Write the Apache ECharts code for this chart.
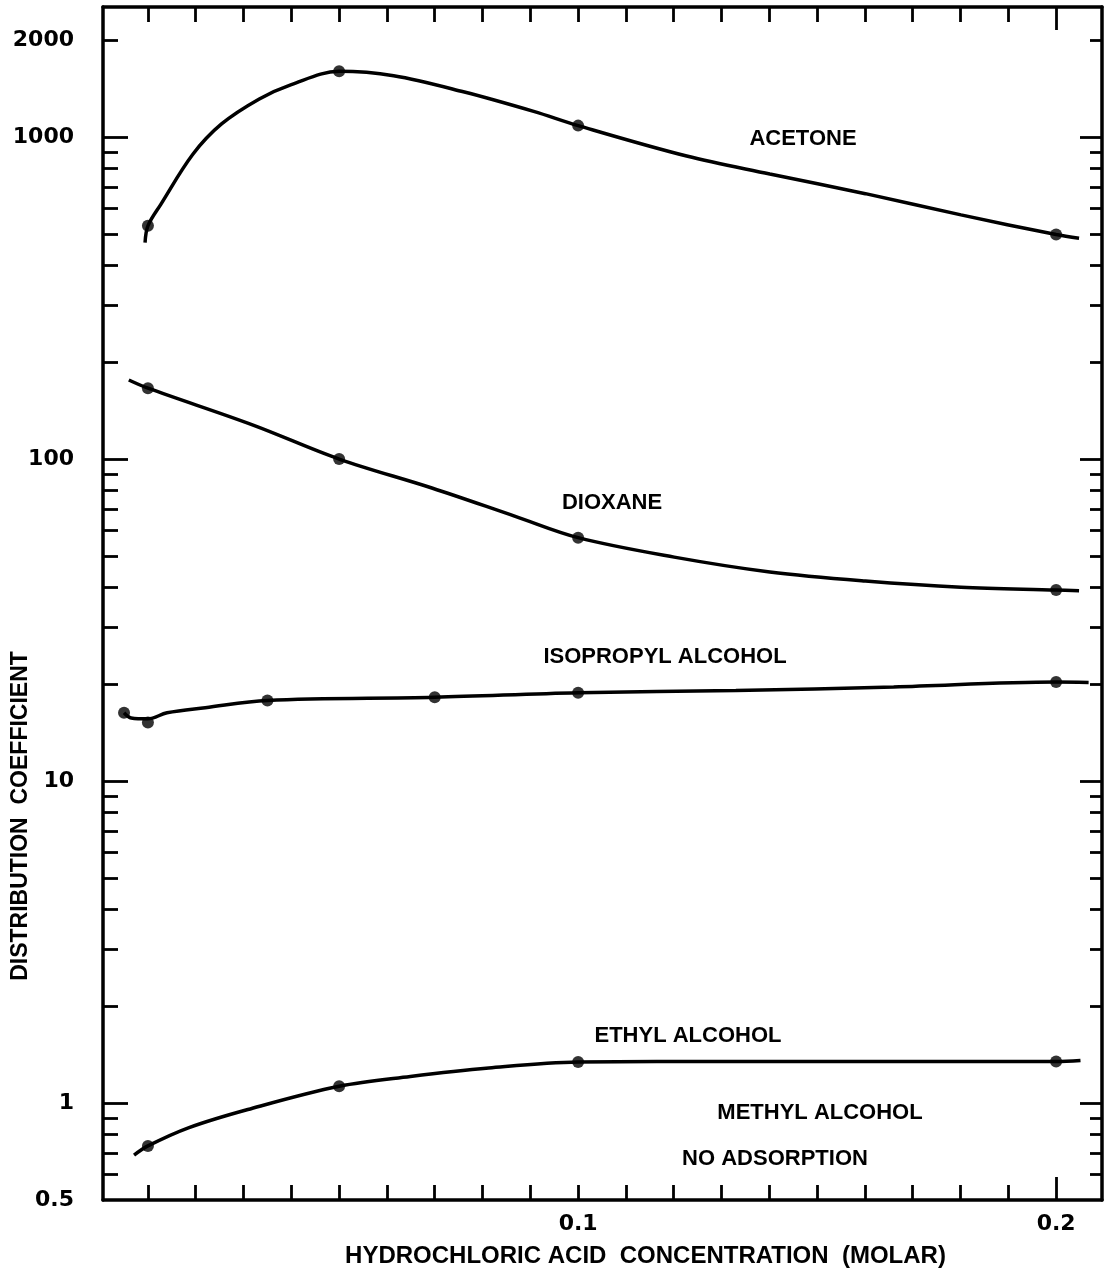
<!DOCTYPE html>
<html>
<head>
<meta charset="utf-8">
<script src="https://cdn.jsdelivr.net/npm/echarts@6/dist/echarts.min.js"></script>
<style>
  html, body { margin: 0; padding: 0; background: #ffffff; }
  #chart { width: 1107px; height: 1277px; }
</style>
</head>
<body>
<div id="chart"></div>
<script>
// Measured points: HCl concentration (M) vs. distribution coefficient
const acetoneX = [0.01, 0.05, 0.1, 0.2];
const acetoneY = [530, 1600, 1085, 498];
const dioxaneX = [0.01, 0.05, 0.1, 0.2];
const dioxaneY = [166, 100, 57, 39.2];
const isopropylX = [0.005, 0.01, 0.035, 0.07, 0.1, 0.2];
const isopropylY = [16.3, 15.2, 17.8, 18.2, 18.8, 20.3];
const ethylX = [0.01, 0.05, 0.1, 0.2];
const ethylY = [0.736, 1.128, 1.341, 1.345];

// Hand-faired curves through the measurements
const acetoneCurveX = [0.0094, 0.01, 0.0127, 0.0194, 0.0254, 0.0333, 0.04, 0.05, 0.0614, 0.076, 0.0907, 0.1, 0.1227, 0.1401, 0.1601, 0.1801, 0.2, 0.2048];
const acetoneCurveY = [470, 530, 618, 884, 1098, 1313, 1455, 1600, 1550, 1382, 1201, 1085, 873, 768, 667, 573, 498, 485];
const dioxaneCurveX = [0.006, 0.01, 0.032, 0.05, 0.0694, 0.0867, 0.1, 0.1201, 0.1401, 0.1601, 0.1801, 0.2, 0.2048];
const dioxaneCurveY = [176, 166, 127.5, 100, 81.3, 66.5, 57, 49.6, 44.6, 41.8, 40.0, 39.2, 39.0];
const isopropylCurveX = [0.005, 0.0065, 0.01, 0.014, 0.022, 0.035, 0.07, 0.1, 0.133, 0.166, 0.2, 0.2068];
const isopropylCurveY = [16.3, 15.7, 15.6, 16.3, 16.9, 17.8, 18.2, 18.8, 19.1, 19.6, 20.3, 20.25];
const ethylCurveX = [0.0071, 0.01, 0.0186, 0.0309, 0.05, 0.0649, 0.0813, 0.1, 0.133, 0.2, 0.2051];
const ethylCurveY = [0.689, 0.736, 0.839, 0.955, 1.128, 1.21, 1.285, 1.341, 1.347, 1.345, 1.356];

// Axis ticks and labels
const xMinorTicks = [0.01, 0.02, 0.03, 0.04, 0.05, 0.06, 0.07, 0.08, 0.09, 0.1,
                     0.11, 0.12, 0.13, 0.14, 0.15, 0.16, 0.17, 0.18, 0.19];
const xMajorTicks = [0.2];
const xTickLabels = [0.1, 0.2];
const yMinorTicks = [0.6, 0.7, 0.8, 0.9, 2, 3, 4, 5, 6, 7, 8, 9,
                     20, 30, 40, 50, 60, 70, 80, 90,
                     200, 300, 400, 500, 600, 700, 800, 900, 2000];
const yMajorTicks = [1, 10, 100, 1000];
const yTickLabels = [0.5, 1, 10, 100, 1000, 2000];

// Curve captions
const captions = ['ACETONE', 'DIOXANE', 'ISOPROPYL ALCOHOL', 'ETHYL ALCOHOL', 'METHYL ALCOHOL', 'NO ADSORPTION'];

const INK = '#000000';
const X_MIN = 0.0006, X_MAX = 0.2096;
const Y_MIN = 0.5, Y_MAX = 2534;
const numFont = '"DejaVu Sans", sans-serif';
const capFont = '"Liberation Sans", Arial, sans-serif';

function zip(xs, ys) { return xs.map((x, i) => [x, ys[i]]); }

function xAxisDef(position, ticks, len, withLine, withLabels) {
  return {
    type: 'value', position: position, min: X_MIN, max: X_MAX,
    splitLine: { show: false },
    axisLine: { show: withLine, onZero: false, lineStyle: { color: INK, width: 3.5 } },
    axisTick: { show: true, inside: true, length: len, customValues: ticks,
                lineStyle: { color: INK, width: 2.8 } },
    axisLabel: withLabels ? {
      show: true, customValues: xTickLabels, margin: 13,
      color: INK, fontFamily: numFont, fontWeight: 'bold', fontSize: 22,
      formatter: v => String(v)
    } : { show: false },
    name: withLabels ? 'HYDROCHLORIC ACID  CONCENTRATION  (MOLAR)' : '',
    nameLocation: 'middle', nameGap: 44,
    nameTextStyle: { color: INK, fontFamily: capFont, fontWeight: 'bold', fontSize: 24,
                     padding: [0, 0, 0, 86] }
  };
}

function yAxisDef(position, ticks, len, withLine, withLabels) {
  return {
    type: 'log', logBase: 10, position: position, min: Y_MIN, max: Y_MAX,
    splitLine: { show: false }, minorTick: { show: false },
    axisLine: { show: withLine, onZero: false, lineStyle: { color: INK, width: 3.5 } },
    axisTick: { show: true, inside: true, length: len, customValues: ticks,
                lineStyle: { color: INK, width: 2.8 } },
    axisLabel: withLabels ? {
      show: true, customValues: yTickLabels, margin: 29,
      color: INK, fontFamily: numFont, fontWeight: 'bold', fontSize: 22,
      formatter: v => String(v)
    } : { show: false }
  };
}

function curve(xs, ys) {
  return {
    type: 'line', xAxisIndex: 0, yAxisIndex: 0, data: zip(xs, ys),
    smooth: 0.35, showSymbol: false, symbol: 'none', silent: true,
    lineStyle: { color: INK, width: 3.5 }, z: 3
  };
}
function points(xs, ys) {
  return {
    type: 'scatter', xAxisIndex: 0, yAxisIndex: 0, data: zip(xs, ys),
    symbol: 'circle', symbolSize: 12, itemStyle: { color: INK }, z: 4
  };
}

// Caption anchors in pixels
const captionPos = [[803, 139], [612, 503], [665, 657], [688, 1036], [820, 1113], [775, 1159]];

const option = {
  backgroundColor: '#ffffff',
  animation: false,
  grid: { left: 103, right: 5, top: 7, bottom: 77, containLabel: false, outerBoundsMode: 'none' },
  xAxis: [
    xAxisDef('bottom', xMinorTicks, 15, true, true),
    xAxisDef('bottom', xMajorTicks, 23, false, false),
    xAxisDef('top', xMinorTicks, 15, true, false),
    xAxisDef('top', xMajorTicks, 23, false, false)
  ],
  yAxis: [
    yAxisDef('left', yMinorTicks, 15, true, true),
    yAxisDef('left', yMajorTicks, 25, false, false),
    yAxisDef('right', yMinorTicks, 12, true, false),
    yAxisDef('right', yMajorTicks, 22, false, false)
  ],
  series: [
    curve(acetoneCurveX, acetoneCurveY),
    curve(dioxaneCurveX, dioxaneCurveY),
    curve(isopropylCurveX, isopropylCurveY),
    curve(ethylCurveX, ethylCurveY),
    points(acetoneX, acetoneY),
    points(dioxaneX, dioxaneY),
    points(isopropylX, isopropylY),
    points(ethylX, ethylY)
  ],
  graphic: captions.map((t, i) => ({
    type: 'text', x: captionPos[i][0], y: captionPos[i][1], silent: true,
    style: { text: t, fill: INK, align: 'center', verticalAlign: 'middle',
             font: 'bold 22px ' + capFont }
  })).concat([{
    type: 'text', x: 21, y: 816, rotation: Math.PI / 2, silent: true,
    style: { text: 'DISTRIBUTION  COEFFICIENT', fill: INK, align: 'center', verticalAlign: 'middle',
             font: 'bold 23px ' + capFont }
  }])
};

const chart = echarts.init(document.getElementById('chart'), null, { renderer: 'canvas' });
chart.setOption(option);
</script>
</body>
</html>
